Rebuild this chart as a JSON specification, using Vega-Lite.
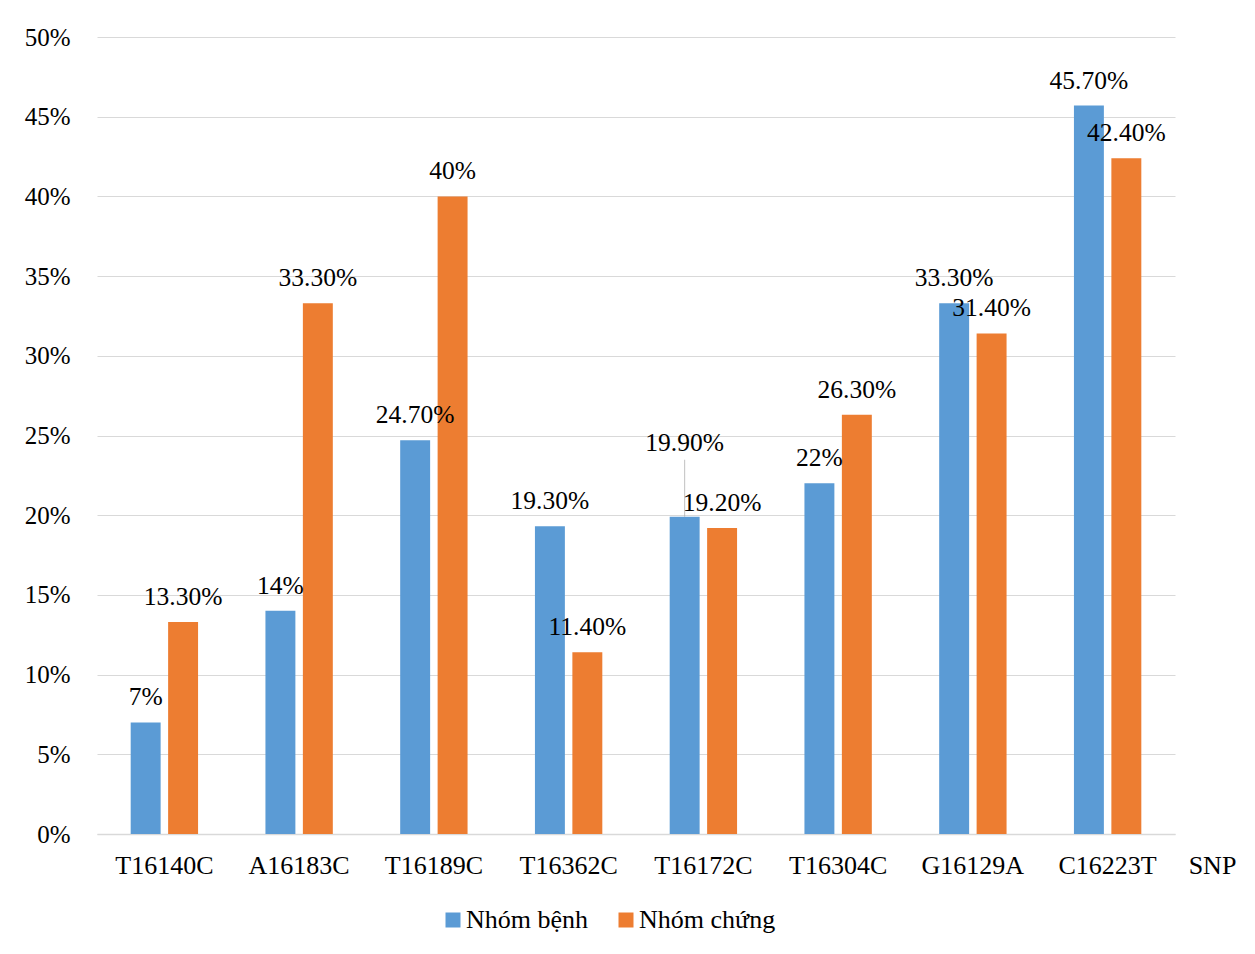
{
  "$schema": "https://vega.github.io/schema/vega-lite/v6.json",
  "autosize": {"type": "none"},
  "width": 1078,
  "height": 797,
  "padding": {"left": 97, "top": 37, "right": 80, "bottom": 120},
  "background": "white",
  "config": {
    "font": "Liberation Serif",
    "view": {"stroke": null},
    "axis": {"labelFont": "Liberation Serif", "titleFont": "Liberation Serif"}
  },
  "data": {
    "values": [
      {"snp": "T16140C", "group": "Nhóm bệnh", "value": 7},
      {"snp": "T16140C", "group": "Nhóm chứng", "value": 13.3},
      {"snp": "A16183C", "group": "Nhóm bệnh", "value": 14},
      {"snp": "A16183C", "group": "Nhóm chứng", "value": 33.3},
      {"snp": "T16189C", "group": "Nhóm bệnh", "value": 24.7},
      {"snp": "T16189C", "group": "Nhóm chứng", "value": 40},
      {"snp": "T16362C", "group": "Nhóm bệnh", "value": 19.3},
      {"snp": "T16362C", "group": "Nhóm chứng", "value": 11.4},
      {"snp": "T16172C", "group": "Nhóm bệnh", "value": 19.9},
      {"snp": "T16172C", "group": "Nhóm chứng", "value": 19.2},
      {"snp": "T16304C", "group": "Nhóm bệnh", "value": 22},
      {"snp": "T16304C", "group": "Nhóm chứng", "value": 26.3},
      {"snp": "G16129A", "group": "Nhóm bệnh", "value": 33.3},
      {"snp": "G16129A", "group": "Nhóm chứng", "value": 31.4},
      {"snp": "C16223T", "group": "Nhóm bệnh", "value": 45.7},
      {"snp": "C16223T", "group": "Nhóm chứng", "value": 42.4}
    ]
  },
  "transform": [
    {"calculate": "(datum.value % 1 === 0 ? format(datum.value, 'd') : format(datum.value, '.2f')) + '%'", "as": "label"}
  ],
  "encoding": {
    "x": {
      "field": "snp",
      "type": "nominal",
      "sort": null,
      "scale": {"paddingInner": 0.5, "paddingOuter": 0.25},
      "axis": {
        "title": "SNP",
        "titleX": 1115,
        "titleY": 31,
        "titleAlign": "center",
        "titleBaseline": "middle",
        "titleFontSize": 26,
        "titleFontWeight": "normal",
        "titleColor": "#000000",
        "labelAngle": 0,
        "labelFontSize": 26,
        "labelColor": "#000000",
        "labelBaseline": "middle",
        "labelPadding": 31,
        "ticks": false,
        "domainColor": "#D9D9D9",
        "domainWidth": 1.5,
        "grid": false
      }
    },
    "xOffset": {
      "field": "group",
      "type": "nominal",
      "sort": ["Nhóm bệnh", "Nhóm chứng"],
      "scale": {"paddingInner": 0.2, "paddingOuter": 0}
    },
    "y": {
      "field": "value",
      "type": "quantitative",
      "scale": {"domain": [0, 50], "nice": false},
      "axis": {
        "title": null,
        "values": [0, 5, 10, 15, 20, 25, 30, 35, 40, 45, 50],
        "labelExpr": "datum.value + '%'",
        "labelFontSize": 25,
        "labelColor": "#000000",
        "labelPadding": 27,
        "ticks": false,
        "domain": false,
        "gridColor": "#D9D9D9",
        "gridWidth": 1.2
      }
    }
  },
  "layer": [
    {
      "mark": {"type": "bar"},
      "encoding": {
        "color": {
          "field": "group",
          "type": "nominal",
          "sort": ["Nhóm bệnh", "Nhóm chứng"],
          "scale": {"domain": ["Nhóm bệnh", "Nhóm chứng"], "range": ["#5B9BD5", "#ED7D31"]},
          "legend": {
            "title": null,
            "orient": "none",
            "direction": "horizontal",
            "legendX": 343,
            "legendY": 870,
            "symbolType": "square",
            "symbolSize": 225,
            "symbolStrokeWidth": 0,
            "labelFont": "Liberation Serif",
            "labelFontSize": 26,
            "labelColor": "#000000",
            "labelOffset": 0,
            "columnPadding": 24
          }
        }
      }
    },
    {
      "transform": [{"filter": "datum.snp !== 'T16172C' || datum.group !== 'Nhóm bệnh'"}],
      "mark": {"type": "text", "baseline": "middle", "align": "center", "dy": -25, "fontSize": 25.5, "color": "#000000"},
      "encoding": {"text": {"field": "label"}}
    },
    {
      "transform": [{"filter": "datum.snp === 'T16172C' && datum.group === 'Nhóm bệnh'"}],
      "mark": {"type": "text", "baseline": "middle", "align": "center", "dy": -74, "fontSize": 25.5, "color": "#000000"},
      "encoding": {"text": {"field": "label"}}
    },
    {
      "transform": [{"filter": "datum.snp === 'T16172C' && datum.group === 'Nhóm bệnh'"}],
      "mark": {"type": "tick", "orient": "vertical", "size": 57, "thickness": 1, "yOffset": -28.5, "color": "#A6A6A6"},
      "encoding": {}
    }
  ]
}
